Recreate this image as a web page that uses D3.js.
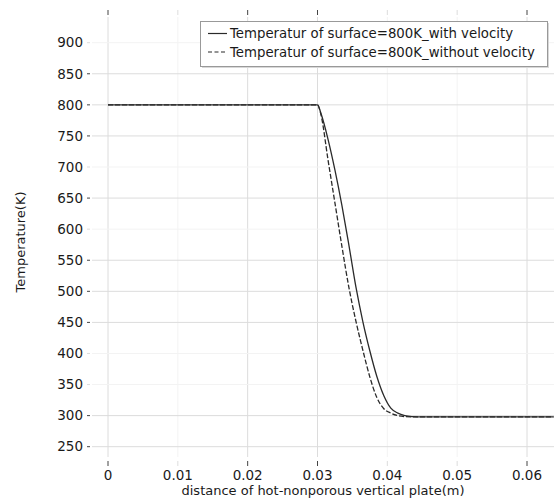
<!DOCTYPE html>
<html>
<head>
<meta charset="utf-8">
<script src="https://cdn.jsdelivr.net/npm/d3@7/dist/d3.min.js"></script>
<style>
  html, body { margin: 0; padding: 0; background: #fff; }
  svg { display: block; font-family: "DejaVu Sans", sans-serif; }
</style>
</head>
<body>
<svg id="chart" width="554" height="500"></svg>
<script>
// ---- data ----
const xWith    = [0, 0.030, 0.0305, 0.0315, 0.0325, 0.0335, 0.0345, 0.0355, 0.0365, 0.0375, 0.0385, 0.0395, 0.0405, 0.0415, 0.0425, 0.0435, 0.045, 0.0638];
const tWith    = [800, 800, 786, 745, 695, 638, 574, 507, 451, 404, 363, 332, 312, 304, 300, 298.5, 298, 298];
const xWithout = [0, 0.030, 0.0305, 0.0315, 0.0325, 0.0335, 0.0345, 0.0355, 0.0365, 0.0375, 0.0385, 0.0395, 0.0405, 0.0415, 0.0425, 0.044, 0.0638];
const tWithout = [800, 800, 784, 712, 642, 572, 506, 452, 405, 362, 329, 311, 304, 300, 298.5, 298, 298];

const xTicks = [0, 0.01, 0.02, 0.03, 0.04, 0.05, 0.06];
const xTickLabels = ["0", "0.01", "0.02", "0.03", "0.04", "0.05", "0.06"];
const yTicks = [250, 300, 350, 400, 450, 500, 550, 600, 650, 700, 750, 800, 850, 900];
// grid lines that are faded out in the reference scan
const xFaded = [0.01, 0.04, 0.05];
const yFaded = [350, 400, 600, 700, 900];

const seriesNames = [
  "Temperatur of surface=800K_with velocity",
  "Temperatur of surface=800K_without velocity"
];
const xTitle = "distance of hot-nonporous vertical plate(m)";
const yTitle = "Temperature(K)";

// ---- layout ----
const svg = d3.select("#chart");
const box = { left: 92, right: 554, top: 17, bottom: 457 };
const x = d3.scaleLinear().domain([0, 0.06]).range([108, 527]);
const y = d3.scaleLinear().domain([250, 900]).range([446.7, 42.7]);

const gridStrong = "#dcdcdc", gridFaint = "#f3f3f3";
const textColor = "#1a1a1a";

// vertical grid
svg.append("g").selectAll("line").data(xTicks).join("line")
  .attr("x1", d => x(d)).attr("x2", d => x(d))
  .attr("y1", box.top).attr("y2", box.bottom)
  .attr("stroke", d => xFaded.includes(d) ? gridFaint : gridStrong)
  .attr("stroke-width", 1);
// horizontal grid
svg.append("g").selectAll("line").data(yTicks).join("line")
  .attr("x1", box.left).attr("x2", box.right)
  .attr("y1", d => y(d)).attr("y2", d => y(d))
  .attr("stroke", d => yFaded.includes(d) ? gridFaint : gridStrong)
  .attr("stroke-width", 1);

// x tick marks (top and bottom)
const xt = svg.append("g");
xt.selectAll("line.b").data(xTicks).join("line").attr("class", "b")
  .attr("x1", d => x(d)).attr("x2", d => x(d)).attr("y1", 461).attr("y2", 466)
  .attr("stroke", d => xFaded.includes(d) ? "#ddd" : "#444").attr("stroke-width", 1);
xt.selectAll("line.t").data(xTicks).join("line").attr("class", "t")
  .attr("x1", d => x(d)).attr("x2", d => x(d)).attr("y1", 10).attr("y2", 15)
  .attr("stroke", d => xFaded.includes(d) ? "#ddd" : "#444").attr("stroke-width", 1);
xt.selectAll("text").data(xTicks).join("text")
  .attr("x", d => x(d)).attr("y", 480)
  .attr("text-anchor", "middle").attr("font-size", 13.5).attr("fill", textColor)
  .text((d, i) => xTickLabels[i]);

// y tick marks and labels
const yt = svg.append("g");
yt.selectAll("line").data(yTicks).join("line")
  .attr("x1", 87).attr("x2", 90)
  .attr("y1", d => y(d)).attr("y2", d => y(d))
  .attr("stroke", d => yFaded.includes(d) ? "#ddd" : "#444").attr("stroke-width", 1);
yt.selectAll("text").data(yTicks).join("text")
  .attr("x", 83).attr("y", d => y(d)).attr("dy", "0.35em")
  .attr("text-anchor", "end").attr("font-size", 13.5).attr("fill", textColor)
  .text(d => d);

// axis titles
svg.append("text").attr("x", 323).attr("y", 495)
  .attr("text-anchor", "middle").attr("font-size", 13).attr("fill", textColor)
  .text(xTitle);
svg.append("text").attr("transform", "translate(25,242) rotate(-90)")
  .attr("text-anchor", "middle").attr("font-size", 13).attr("fill", textColor)
  .text(yTitle);

// lines
const line = d3.line().x(d => x(d[0])).y(d => y(d[1])).curve(d3.curveMonotoneX);
const dWith = xWith.map((v, i) => [v, tWith[i]]);
const dWithout = xWithout.map((v, i) => [v, tWithout[i]]);
svg.append("path").datum(dWithout).attr("d", line)
  .attr("fill", "none").attr("stroke", "#2a2a2a").attr("stroke-width", 1.3)
  .attr("stroke-dasharray", "5,2");
svg.append("path").datum(dWith).attr("d", line)
  .attr("fill", "none").attr("stroke", "#2a2a2a").attr("stroke-width", 1.3);

// legend
const lg = svg.append("g");
lg.append("rect").attr("x", 202).attr("y", 23).attr("width", 347).attr("height", 45)
  .attr("fill", "#d8d8d8");
lg.append("rect").attr("x", 200.5).attr("y", 21.5).attr("width", 347).attr("height", 45)
  .attr("fill", "#fff").attr("stroke", "#999").attr("stroke-width", 1);
const rows = [33.5, 52];
seriesNames.forEach((name, i) => {
  lg.append("line").attr("x1", 208).attr("x2", 227).attr("y1", rows[i]).attr("y2", rows[i])
    .attr("stroke", "#2a2a2a").attr("stroke-width", 1.2)
    .attr("stroke-dasharray", i === 1 ? "4,2.5" : null);
  lg.append("text").attr("x", 230).attr("y", rows[i]).attr("dy", "0.35em")
    .attr("font-size", 13.3).attr("fill", textColor).text(name);
});
</script>
</body>
</html>
